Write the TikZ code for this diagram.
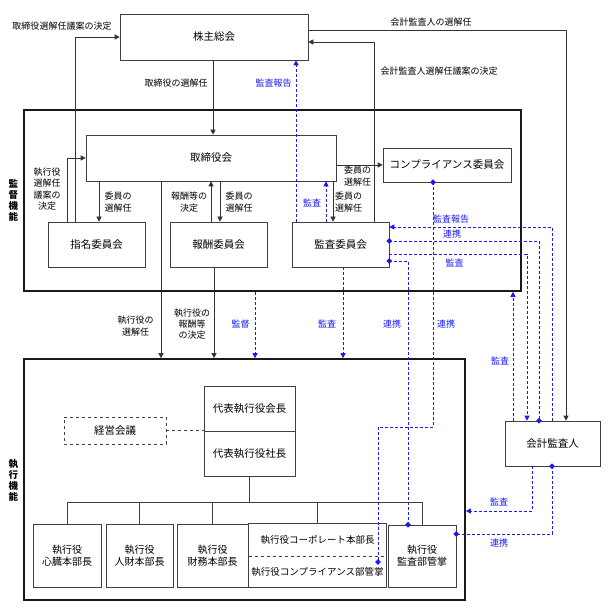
\documentclass[tikz,border=0pt]{standalone}
\usepackage{fontspec}
\setmainfont{Noto Sans CJK JP}
\usetikzlibrary{arrows.meta,positioning,shapes.geometric}
\definecolor{linkBlue}{RGB}{25,25,245}
\tikzset{
  govBox/.style={draw=black!75, line width=0.6pt, align=center, font=\fontsize{10.5}{12.5}\selectfont, inner sep=1pt},
  govFrame/.style={draw=black!90, line width=1.6pt, inner sep=0pt},
  govLabel/.style={font=\fontsize{9}{11.3}\selectfont, align=center, inner sep=0pt},
  govBlueLabel/.style={govLabel, text=linkBlue},
  govSide/.style={font=\fontsize{9.5}{11}\selectfont\bfseries, align=center, inner sep=0pt},
  govArrow/.style={-{Triangle[length=5pt,width=5pt]}, draw=black!80, line width=0.6pt},
  govLine/.style={draw=black!75, line width=0.6pt},
  govDashArrow/.style={-{Triangle[length=5pt,width=5pt]}, draw=linkBlue, line width=0.8pt, dash pattern=on 3pt off 2pt},
  govDashLine/.style={draw=linkBlue, line width=0.8pt, dash pattern=on 3pt off 2pt},
  govDot/.style={diamond, fill=linkBlue, inner sep=0pt, minimum width=6pt, minimum height=6pt}
}

\begin{document}
\begin{tikzpicture}[
    x=1pt, y=-1pt,
    smallBox/.style={govBox, font=\fontsize{10}{12}\selectfont, minimum width=68pt, minimum height=63pt}
  ]
  \useasboundingbox (0,0) rectangle (609,609);
  % frames
  \node[govFrame, minimum width=497pt, minimum height=181pt] (sup) at (272.5,200.5) {};
  \node[govFrame, minimum width=441pt, minimum height=241pt] (exe) at (244.5,479.5) {};
  \node[govSide] (supLbl) at (13.5,200) {監\\督\\機\\能};
  \node[govSide] (exeLbl) at (13.5,480) {執\\行\\機\\能};
  % boxes
  \node[govBox, minimum width=188pt, minimum height=46pt] (gm) at (214,37) {株主総会};
  \node[govBox, minimum width=250pt, minimum height=46pt] (board) at (211,158) {取締役会};
  \node[govBox, minimum width=128pt, minimum height=34pt] (comp) at (447,165) {コンプライアンス委員会};
  \node[govBox, minimum width=97pt, minimum height=45pt] (nomi) at (96.5,244.5) {指名委員会};
  \node[govBox, minimum width=97pt, minimum height=45pt] (remu) at (218.5,244.5) {報酬委員会};
  \node[govBox, minimum width=97pt, minimum height=45pt] (audit) at (340.5,244.5) {監査委員会};
  \node[govBox, minimum width=95pt, minimum height=45pt] (auditor) at (552.5,443.5) {会計監査人};
  \node[govBox, minimum width=91pt, minimum height=45pt] (chair) at (249.5,408.5) {代表執行役会長};
  \node[govBox, minimum width=91pt, minimum height=45pt] (pres) at (249.5,453.5) {代表執行役社長};
  \node[govBox, dashed, minimum width=102pt, minimum height=27pt] (mgmt) at (115,430.5) {経営会議};
  \node[smallBox] (hq1) at (67,555.5) {執行役\\心臓本部長};
  \node[smallBox, minimum width=67pt] (hq2) at (139.5,555.5) {執行役\\人財本部長};
  \node[smallBox, minimum width=71pt] (hq3) at (212.5,555.5) {執行役\\財務本部長};
  \node[govBox, draw=none, font=\fontsize{9.5}{11}\selectfont, minimum width=137pt, minimum height=32pt] (corp) at (317.5,540) {執行役コーポレート本部長};
  \node[govBox, draw=none, font=\fontsize{9.5}{11}\selectfont, minimum width=137pt, minimum height=31pt] (cmpl) at (317.5,571.5) {執行役コンプライアンス部管掌};
  \draw[govLine] (corp.north west) rectangle (cmpl.south east);
  \draw[govLine, dashed] (corp.south west) -- (corp.south east);
  \node[smallBox, minimum height=62pt] (hq5) at (422,556) {執行役\\監査部管掌};
  \coordinate (cmplDot) at (378,562);

  % shareholders
  \draw[govArrow] (75,0 |- nomi.north) |- (gm.west);
  \node[govLabel] (lblA) at (62,26) {取締役選解任議案の決定};
  \draw[govArrow] (213,0 |- gm.south) -- (213,0 |- board.north);
  \node[govLabel] (lblB) at (176,83) {取締役の選解任};
  \draw[govDashArrow] (296,0 |- audit.north) -- (296,0 |- gm.south);
  \node[govBlueLabel] (lblC) at (273.5,83) {監査報告};
  \draw[govArrow] (gm.east |- 0,30) -| (566,0 |- auditor.north);
  \node[govLabel] (lblD) at (431,22) {会計監査人の選解任};
  \draw[govArrow] (374,0 |- audit.north) |- (gm.east |- 0,42);
  \node[govLabel] (lblE) at (439,71) {会計監査人選解任議案の決定};

  % board and committees
  \draw[govArrow] (99,0 |- board.south) -- (99,0 |- nomi.north);
  \node[govLabel] (lblF) at (118,202) {委員の\\選解任};
  \draw[govArrow] (67,0 |- nomi.north) |- (board.west);
  \node[govLabel] (lblG) at (47,189) {執行役\\選解任\\議案の\\決定};
  \draw[govArrow] (211,0 |- remu.north) -- (211,0 |- board.south);
  \node[govLabel] (lblH) at (189,202) {報酬等の\\決定};
  \draw[govArrow] (220,0 |- board.south) -- (220,0 |- remu.north);
  \node[govLabel] (lblI) at (239,202) {委員の\\選解任};
  \draw[govArrow] (board.east |- comp.west) -- (comp.west);
  \node[govLabel] (lblJ) at (357.5,176) {委員の\\選解任};
  \draw[govArrow] (333,0 |- board.south) -- (333,0 |- audit.north);
  \node[govLabel] (lblK) at (348.5,202) {委員の\\選解任};
  \draw[govDashArrow] (326,0 |- audit.north) -- (326,0 |- board.south);
  \node[govBlueLabel] (lblL) at (312,203) {監査};

  % supervision to execution
  \draw[govArrow] (161,0 |- board.south) -- (161,0 |- exe.north);
  \node[govLabel] (lblM) at (135.5,326) {執行役の\\選解任};
  \draw[govArrow] (214,0 |- remu.south) -- (214,0 |- exe.north);
  \node[govLabel] (lblN) at (192,324) {執行役の\\報酬等\\の決定};
  \draw[govDashArrow] (255,0 |- sup.south) -- (255,0 |- exe.north);
  \node[govBlueLabel] (lblO) at (240.5,324) {監督};
  \draw[govDashArrow] (343,0 |- audit.south) -- (343,0 |- exe.north);
  \node[govBlueLabel] (lblP) at (327,324) {監査};
  \draw[govDashLine] (audit.east |- 0,261) -| (408,0 |- hq5.north);
  \node[govBlueLabel] (lblQ) at (392,324) {連携};
  \draw[govDashLine] (433,0 |- comp.south) |- (378,427) -- (cmplDot);
  \node[govBlueLabel] (lblR) at (446,324) {連携};

  % accounting auditor
  \draw[govDashArrow] (552,0 |- auditor.north) |- (audit.east |- 0,227);
  \node[govBlueLabel] (lblS) at (451,219) {監査報告};
  \draw[govDashLine] (audit.east |- 0,241) -| (539,0 |- auditor.north);
  \node[govBlueLabel] (lblT) at (452,234) {連携};
  \draw[govDashArrow] (audit.east |- 0,254) -| (527,0 |- auditor.north);
  \node[govBlueLabel] (lblU) at (454.5,263) {監査};
  \draw[govDashArrow] (513,0 |- auditor.north) -- (513,0 |- sup.south);
  \node[govBlueLabel] (lblV) at (500,361) {監査};
  \draw[govDashArrow] (532,0 |- auditor.south) |- (exe.east |- 0,511);
  \node[govBlueLabel] (lblW) at (499,502) {監査};
  \draw[govDashLine] (552,0 |- auditor.south) |- (hq5.east |- 0,534);
  \node[govBlueLabel] (lblX) at (499,543) {連携};

  % markers
  \node[govDot] (dot1) at (audit.east |- 0,261) {};
  \node[govDot] (dot2) at (408,0 |- hq5.north) {};
  \node[govDot] (dot3) at (433,0 |- comp.south) {};
  \node[govDot] (dot4) at (cmplDot) {};
  \node[govDot] (dot5) at (audit.east |- 0,241) {};
  \node[govDot] (dot6) at (539,0 |- auditor.north) {};
  \node[govDot] (dot7) at (552,0 |- auditor.south) {};
  \node[govDot] (dot8) at (hq5.east |- 0,534) {};

  % execution
  \draw[govLine, dashed] (mgmt.east) -- (mgmt.east -| pres.west);
  \draw[govLine] (pres.south) -- ++(0,26) coordinate (bus);
  \foreach \b in {hq1,hq2,hq3,corp,hq5}
    \draw[govLine] (\b.north) |- (bus);
\end{tikzpicture}
\end{document}
